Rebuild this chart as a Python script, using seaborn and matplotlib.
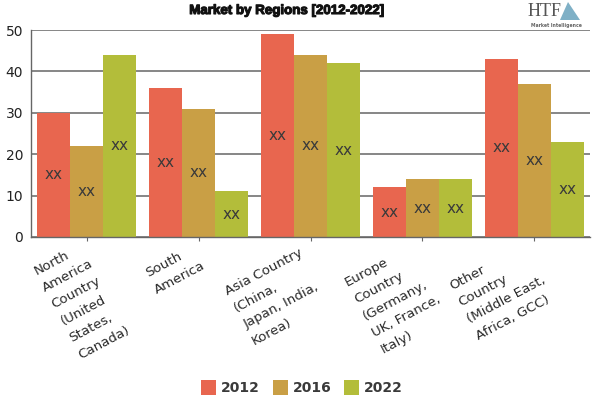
import matplotlib
matplotlib.use("Agg")
import matplotlib.pyplot as plt
import matplotlib.patheffects as pe
import pandas as pd
import seaborn as sns
from matplotlib.patches import Polygon
from matplotlib.transforms import ScaledTranslation

categories = [
    "North\nAmerica\nCountry\n(United\nStates,\nCanada)",
    "South\nAmerica",
    "Asia Country\n(China,\nJapan, India,\nKorea)",
    "Europe\nCountry\n(Germany,\nUK, France,\nItaly)",
    "Other\nCountry\n(Middle East,\nAfrica, GCC)",
]
values_2012 = [30, 36, 49, 12, 43]
values_2016 = [22, 31, 44, 14, 37]
values_2022 = [44, 11, 42, 14, 23]
years = ["2012", "2016", "2022"]
colors = ["#E8664F", "#C99F45", "#B3BD3A"]
title = "Market by Regions [2012-2022]"
point_label = "xx"

df = pd.DataFrame({"Region": categories, "2012": values_2012, "2016": values_2016, "2022": values_2022})
long_df = df.melt(id_vars="Region", var_name="Year", value_name="Value")

sns.set_theme(style="white")
plt.rcParams["font.family"] = ["DejaVu Sans"]
fig = plt.figure(figsize=(6, 4), dpi=100)
W, H = 600, 400
ax = fig.add_axes([31 / W, 1 - 237 / H, 559 / W, 207 / H])
sns.barplot(data=long_df, x="Region", y="Value", hue="Year", hue_order=years, palette=colors,
            width=0.885, gap=0, saturation=1, ax=ax, legend=False, errorbar=None, linewidth=0)
ax.set_xlim(-0.5, 4.5)
ax.set_ylim(0, 50)
ax.set_xlabel("")
ax.set_ylabel("")
ax.set_yticks([0, 10, 20, 30, 40, 50])
ax.set_axisbelow(True)
ax.yaxis.grid(True, color="#666666", linewidth=1.1)
ax.xaxis.grid(False)
for s in ["top", "right"]:
    ax.spines[s].set_visible(False)
for s in ["left", "bottom"]:
    ax.spines[s].set_color("#666666")
    ax.spines[s].set_linewidth(1.0)
ax.tick_params(axis="y", length=3.6, width=1.1, color="#666666", labelsize=10, labelcolor="#222222", pad=2)
ax.tick_params(axis="x", length=3, width=0.8, color="#666666", bottom=True)

for container in ax.containers:
    ax.bar_label(container, labels=[point_label] * len(container), label_type="center",
                 fontsize=11, color="#3a3a3a")

offsets = [(-5, 6), (-23, 4), (-33, 0), (-25, 4), (-32, 6)]
ax.set_xticks(range(len(categories)))
ax.set_xticklabels(categories, rotation=28, ha="center", va="top", multialignment="left",
                   fontsize=9.6, color="#2a2a2a", linespacing=1.6)
for lbl, (dx, dy) in zip(ax.get_xticklabels(), offsets):
    lbl.set_transform(lbl.get_transform() + ScaledTranslation(dx / 100, dy / 100, fig.dpi_scale_trans))

fig.text(287 / W, 1 - 11 / H, title, ha="center", va="center", fontsize=9.6, fontweight="bold",
         family="Liberation Sans", color="#111111",
         path_effects=[pe.withStroke(linewidth=0.8, foreground="#111111")])

# Legend
for i, (yr, c) in enumerate(zip(years, colors)):
    x = 201 + 71.5 * i
    fig.patches.append(plt.Rectangle((x / W, 1 - 395 / H), 15 / W, 15 / H, transform=fig.transFigure,
                                     facecolor=c, edgecolor="none"))
    fig.text((x + 20) / W, 1 - 388 / H, yr, ha="left", va="center", fontsize=10,
             fontweight="bold", color="#3a3a3a")

# Publisher logo
fig.text(545 / W, 1 - 11 / H, "HTF", ha="center", va="center", fontsize=13,
         family="Liberation Serif", color="#555555")
fig.text(556 / W, 1 - 25 / H, "Market Intelligence", ha="center", va="center", fontsize=3.3,
         fontweight="bold", color="#666666")
fig.patches.append(Polygon([(560 / W, 1 - 20 / H), (568 / W, 1 - 2 / H), (580 / W, 1 - 20 / H)], closed=True,
                           transform=fig.transFigure, facecolor="#5F9DB8", edgecolor="none", alpha=0.8))
fig.savefig("out.png", dpi=100)
